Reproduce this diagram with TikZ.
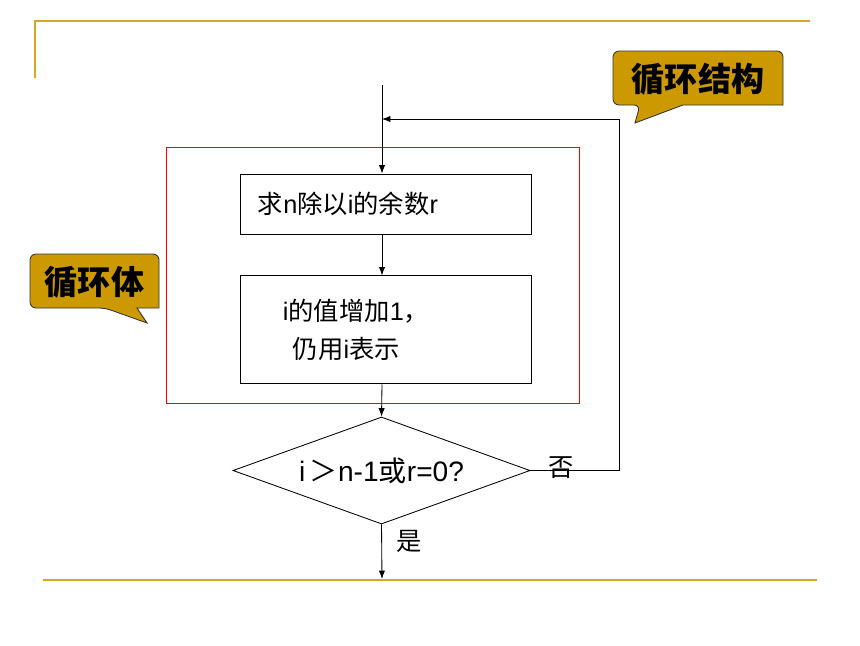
\documentclass[tikz,border=0pt]{standalone}
\usepackage{fontspec}
\setmainfont{Liberation Sans}
\newfontfamily\cjk{Noto Sans CJK SC}
\newcommand{\zh}[1]{{\cjk #1}}
\usetikzlibrary{shapes.geometric,arrows.meta,positioning}
\definecolor{gold}{RGB}{204,153,0}
\definecolor{rulecol}{RGB}{214,168,36}

\begin{document}
\begin{tikzpicture}[x=0.025cm, y=-0.025cm, line width=0.6pt,
    proc node/.style={rectangle,draw,minimum width=7.275cm,inner ysep=0pt,align=left,
                      font=\fontsize{18}{27.5}\selectfont},
    cond node/.style={diamond,draw,aspect=2.78,minimum width=7.425cm,minimum height=2.675cm,
                      inner sep=0pt,font=\fontsize{20}{24}\selectfont},
    tag box/.style={fill=gold,draw=black!80},
    tag node/.style={font=\fontsize{23.5}{28}\selectfont\cjk\bfseries},
    flow/.style={-{Latex[length=6pt,width=4.5pt]}}]

  \useasboundingbox (0,0) rectangle (860,645);

  % frame lines
  \draw[rulecol, line width=1.4pt] (35,78) -- (35,21) -- (810,21);
  \draw[rulecol, line width=1.4pt] (43,580) -- (817,580);

  % loop body
  \draw[red] (166,147) rectangle (579,403);

  \node[proc node, minimum height=1.5cm, text width=6.375cm, inner xsep=0.45cm] (b1) at (385.5,204)
    {\zh{求}n\zh{除以}i\zh{的余数}r};
  \node[proc node, minimum height=2.7cm, text width=5.125cm, inner xsep=1.075cm] (b2) [below=1.025cm of b1]
    {i\zh{的值增加}1\zh{，}\\\hspace{0.25cm}\zh{仍用}i\zh{表示}};
  \node[cond node] (d) at (381.5,470.5) {i\,\zh{＞}n-1\zh{或}r=0?};

  \node[font=\fontsize{18}{22}\selectfont\cjk] (no) at (561,468) {否};
  \node[font=\fontsize{18}{22}\selectfont\cjk] (yes) at (409,541) {是};

  \coordinate (entry) at (382,85);
  \coordinate (back) at (619,119);
  \coordinate (exit) at (382,579);

  \draw[flow] (entry) -- (b1.north -| entry);
  \draw[flow] (b1.south -| entry) -- (b2.north -| entry);
  \draw[flow] (b2.south -| entry) -- (d.north);
  \draw[flow] (d.east) -| (back) -- (back -| entry);
  \draw[flow] (d.south) -- (exit);

  % callouts
  \filldraw[tag box] (700,51) [rounded corners=0.15cm] -- (613,51) -- (613,105) -- (640,105)
    [sharp corners] -- (635,123) -- (683,105) -- (783,105)
    [rounded corners=0.15cm] -- (783,51) -- cycle;
  \node[tag node] (jg) at (698,79) {循环结构};

  \filldraw[tag box] (94,254) [rounded corners=0.15cm] -- (30,254) -- (30,308) -- (105,308)
    [sharp corners] -- (147,323) -- (137,308) -- (159,308)
    [rounded corners=0.15cm] -- (159,254) -- cycle;
  \node[tag node] (xht) at (94.5,282) {循环体};
\end{tikzpicture}
\end{document}
